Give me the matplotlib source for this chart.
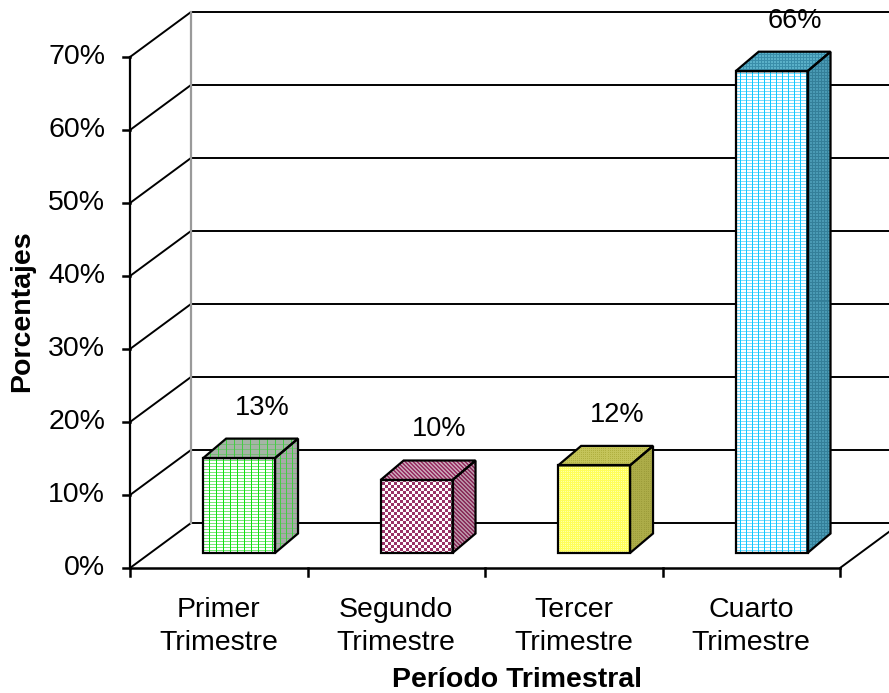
import numpy as np
import matplotlib
matplotlib.use("Agg")
import matplotlib.pyplot as plt
from matplotlib.patches import Polygon

# ---- data ----
categories = ["Primer\nTrimestre", "Segundo\nTrimestre", "Tercer\nTrimestre", "Cuarto\nTrimestre"]
values = [13, 10, 12, 66]
value_labels = ["13%", "10%", "12%", "66%"]
y_ticks = [0, 10, 20, 30, 40, 50, 60, 70]
y_tick_labels = ["0%", "10%", "20%", "30%", "40%", "50%", "60%", "70%"]
x_title = "Período Trimestral"
y_title = "Porcentajes"

plt.rcParams["font.family"] = ["Liberation Sans", "DejaVu Sans"]

W, H, DPI = 889, 693, 100
fig = plt.figure(figsize=(W / DPI, H / DPI), dpi=DPI)
ax = fig.add_axes([0, 0, 1, 1])
ax.set_axis_off()

# scale: one category = 177.5 px, one percent = 7.3 px
px_x, px_y = 177.5, 7.3
x0_px, y0_px = 130, 125
ax.set_xlim(-x0_px / px_x, (W - x0_px) / px_x)
ax.set_ylim(-y0_px / px_y, (H - y0_px) / px_y)

n = len(categories)
ymax = y_ticks[-1]
# depth of the floor / walls (data units)
DX, DY = 61 / px_x, 45 / px_y
# bar placement in depth
front_f = 1 / 3
BDX, BDY = 23 / px_x, 19.5 / px_y
bar_w = 0.405

line_kw = dict(color="black", lw=1.4, solid_capstyle="butt", zorder=2)

# side wall gridlines and back wall gridlines
for v in y_ticks:
    ax.plot([0, DX], [v, v + DY], **line_kw)
    ax.plot([DX, n + DX], [v + DY, v + DY], **line_kw)
# back wall left edge
ax.plot([DX, DX], [DY, ymax + DY], color="#9a9a9a", lw=1.6, zorder=2)
# floor
ax.plot([n, n + DX], [0, DY], **line_kw)

# front value axis and category axis
ax.plot([0, 0], [0, ymax], color="black", lw=1.6, zorder=3)
ax.plot([0, n], [0, 0], color="black", lw=1.8, zorder=3)
for v, lab in zip(y_ticks, y_tick_labels):
    ax.plot([-7 / px_x, 0], [v, v], color="black", lw=1.8, zorder=3)
    ax.text(-25 / px_x, v, lab, ha="right", va="center", fontsize=20.5)
for i in range(n + 1):
    ax.plot([i, i], [0, -8 / px_y], color="black", lw=1.8, zorder=3)
for i, lab in enumerate(categories):
    first, second = lab.split("\n")
    ax.text(i + 0.5, -42 / px_y, first, ha="center", va="center", fontsize=20.5)
    ax.text(i + 0.5, -75 / px_y, second, ha="center", va="center", fontsize=20.5)

ax.text(2.18, -112 / px_y, x_title, ha="center", va="center",
        fontsize=20.5, fontweight="bold")
ax.text(-108 / px_x, 35.2, y_title, ha="center", va="center", rotation=90,
        fontsize=20.5, fontweight="bold")


# ---- textures ----
def hex_rgb(c):
    return np.array(matplotlib.colors.to_rgb(c))


def texture(kind, w, h, base, ink, p1=4, p2=4, ink2=None):
    yy, xx = np.mgrid[0:h, 0:w]
    img = np.ones((h, w, 3)) * hex_rgb(base)
    ink = hex_rgb(ink)
    if kind == "grid":
        # horizontal lines in a lighter ink, vertical lines in full ink
        img[yy % p2 == 0] = hex_rgb(ink2) if ink2 else ink
        img[xx % p1 == 0] = ink
        return img
    if kind == "checker":
        mask = ((xx // p1) + (yy // p2)) % 2 == 0
    elif kind == "diag":
        mask = ((xx + yy) % p1) < p2
    elif kind == "dots":
        mask = ((xx % p1) == 0) & ((yy % p2) == 0)
    else:
        mask = np.zeros_like(xx, dtype=bool)
    img[mask] = ink
    return img


def face(verts, kind, base, ink, p1=4, p2=4, ink2=None, z=5):
    verts = np.asarray(verts)
    disp = ax.transData.transform(verts)
    xmin, ymin = np.floor(disp.min(axis=0)) - 1
    xmax, ymax_ = np.ceil(disp.max(axis=0)) + 1
    w, h = int(xmax - xmin), int(ymax_ - ymin)
    img = texture(kind, w, h, base, ink, p1, p2, ink2)
    lo = ax.transData.inverted().transform([xmin, ymin])
    hi = ax.transData.inverted().transform([xmax, ymax_])
    im = ax.imshow(img, extent=[lo[0], hi[0], lo[1], hi[1]], origin="lower",
                   interpolation="nearest", aspect="auto", zorder=z)
    poly = Polygon(verts, closed=True, facecolor="none", edgecolor="black",
                   lw=1.6, joinstyle="miter", zorder=z + 0.5)
    ax.add_patch(poly)
    im.set_clip_path(poly)


styles = [
    dict(front=("grid", "white", "#11e011", 7, 3, "#77e877"),
         top=("grid", "#a6b4a6", "#44cc44", 8, 5, "#77bb77"),
         side=("grid", "#a8a8a8", "#44cc44", 6, 5, "#77bb77")),
    dict(front=("checker", "white", "#993366", 3, 3),
         top=("diag", "#c8a0b4", "#993366", 4, 2),
         side=("diag", "#b890a4", "#8a2f5c", 4, 2)),
    dict(front=("dots", "#ffff5a", "#ffffaa", 2, 2),
         top=("dots", "#c4c45a", "#b0b040", 2, 2),
         side=("dots", "#acac48", "#9c9c3a", 2, 2)),
    dict(front=("grid", "white", "#11c8ff", 6, 3, "#77dcff"),
         top=("grid", "#5ab0c8", "#3a8eaa", 3, 3),
         side=("grid", "#4a9ab4", "#347f99", 3, 3)),
]

for i, (v, lab, st) in enumerate(zip(values, value_labels, styles)):
    fx = i + 0.5 + front_f * DX - bar_w / 2
    fy = front_f * DY
    x1, x2 = fx, fx + bar_w
    y1, y2 = fy, fy + v
    front = [(x1, y1), (x2, y1), (x2, y2), (x1, y2)]
    top = [(x1, y2), (x2, y2), (x2 + BDX, y2 + BDY), (x1 + BDX, y2 + BDY)]
    side = [(x2, y1), (x2 + BDX, y1 + BDY), (x2 + BDX, y2 + BDY), (x2, y2)]
    face(side, *st["side"])
    face(top, *st["top"])
    face(front, *st["front"])
    ax.text(x1 + bar_w / 2 + BDX, y2 + BDY + 31 / px_y, lab, ha="center",
            va="center", fontsize=19.5)

fig.savefig("out.png", dpi=DPI)
